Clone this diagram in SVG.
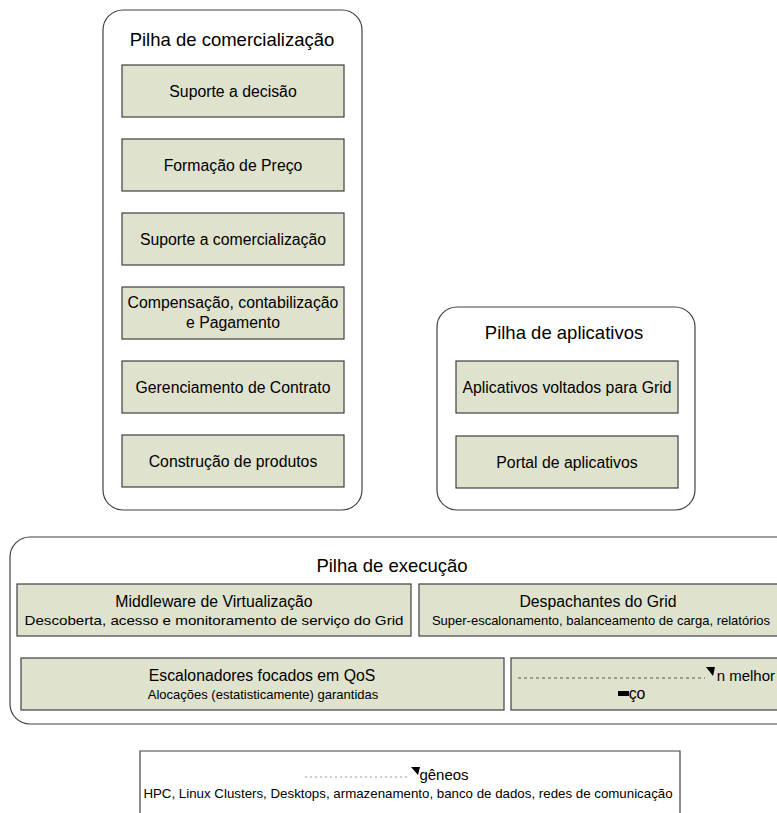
<svg xmlns="http://www.w3.org/2000/svg" width="777" height="813" viewBox="0 0 777 813">
<style>
.stack{fill:#ffffff;stroke:#404040;stroke-width:1.2}
.box{fill:#dfe2cd;stroke:#404040;stroke-width:1.2}
text{font-family:"Liberation Sans",Arial,sans-serif;fill:#000;text-anchor:middle}
.h{font-size:18.5px}
.t{font-size:15.8px}
.s{font-size:13px}
</style>
<rect width="777" height="813" fill="#ffffff"/>
<g id="pilha-comercializacao">
<rect class="stack" x="103" y="10" width="259" height="500" rx="20"/>
<text class="h" x="232" y="46">Pilha de comercialização</text>
</g>
<g id="suporte-decisao"><rect class="box" x="122" y="65" width="222" height="52"/><text class="t" x="233" y="97">Suporte a decisão</text></g>
<g id="formacao-preco"><rect class="box" x="122" y="139" width="222" height="52"/><text class="t" x="233" y="171">Formação de Preço</text></g>
<g id="suporte-comercializacao"><rect class="box" x="122" y="213" width="222" height="52"/><text class="t" x="233" y="245">Suporte a comercialização</text></g>
<g id="compensacao"><rect class="box" x="122" y="287" width="222" height="52"/><text class="t" x="233" y="308">Compensação, contabilização</text><text class="t" x="233" y="328">e Pagamento</text></g>
<g id="gerenciamento-contrato"><rect class="box" x="122" y="361" width="222" height="52"/><text class="t" x="233" y="393">Gerenciamento de Contrato</text></g>
<g id="construcao-produtos"><rect class="box" x="122" y="435" width="222" height="52"/><text class="t" x="233" y="467">Construção de produtos</text></g>

<g id="pilha-aplicativos">
<rect class="stack" x="437" y="307" width="258" height="203" rx="20"/>
<text class="h" x="564" y="339">Pilha de aplicativos</text>
</g>
<g id="aplicativos-grid"><rect class="box" x="456" y="361" width="222" height="52"/><text class="t" x="567" y="393">Aplicativos voltados para Grid</text></g>
<g id="portal-aplicativos"><rect class="box" x="456" y="436" width="222" height="52"/><text class="t" x="567" y="468">Portal de aplicativos</text></g>

<g id="pilha-execucao">
<rect class="stack" x="10" y="537" width="800" height="187" rx="20"/>
<text class="h" x="392" y="572">Pilha de execução</text>
</g>
<g id="middleware"><rect class="box" x="17" y="584" width="394" height="52"/><text class="t" x="214" y="607">Middleware de Virtualização</text><text class="s" x="214" y="625" textLength="379" lengthAdjust="spacingAndGlyphs">Descoberta, acesso e monitoramento de serviço do Grid</text></g>
<g id="despachantes"><rect class="box" x="419" y="584" width="380" height="52"/><text class="t" x="598" y="607">Despachantes do Grid</text><text class="s" x="601" y="625">Super-escalonamento, balanceamento de carga, relatórios</text></g>
<g id="escalonadores-qos"><rect class="box" x="21" y="658" width="483" height="52"/><text class="t" x="262" y="681">Escalonadores focados em QoS</text><text class="s" x="263" y="699">Alocações (estatisticamente) garantidas</text></g>
<g id="melhor-esforco"><rect class="box" x="511" y="658" width="290" height="52"/>
<line x1="518" y1="678" x2="705" y2="678" stroke="#555" stroke-width="1" stroke-dasharray="3,3"/>
<polygon points="706,667 715,667 713,676" fill="#000"/>
<rect x="618" y="691" width="11" height="5" fill="#000"/>
<text class="t" x="775" y="681" style="text-anchor:end;font-size:15px">n melhor</text>
<text class="t" x="637" y="699">ço</text></g>

<g id="recursos">
<path d="M140,813 V751 H680 V813" fill="#ffffff" stroke="#404040" stroke-width="1.2"/>
<line x1="305" y1="777" x2="410" y2="777" stroke="#999" stroke-width="1" stroke-dasharray="2,3"/>
<polygon points="411,767 420,767 418,775" fill="#000"/>
<text class="t" x="444" y="780" style="font-size:15px">gêneos</text>
<text class="s" x="408" y="798" style="font-size:13.3px">HPC, Linux Clusters, Desktops, armazenamento, banco de dados, redes de comunicação</text>
</g>
<g id="connectors"></g>
</svg>
